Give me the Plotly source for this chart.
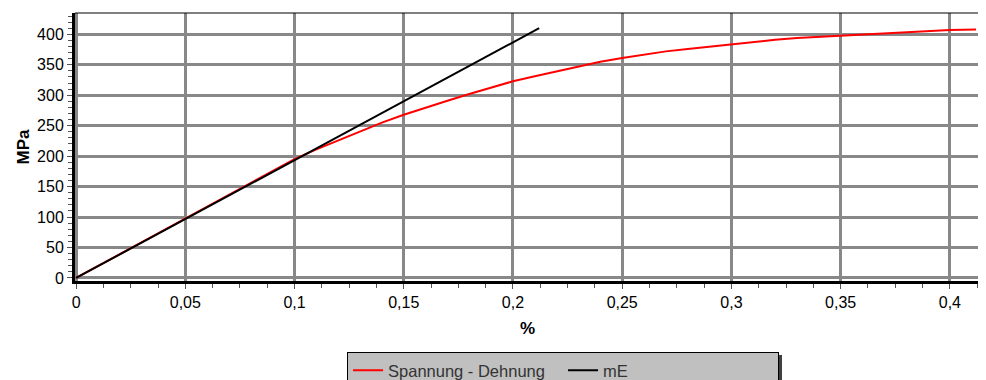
import plotly.graph_objects as go

# Spannung - Dehnung curve (strain %, stress MPa)
strain = [0, 0.05, 0.1, 0.11, 0.12, 0.13, 0.14, 0.15, 0.16, 0.17, 0.18, 0.19, 0.2,
          0.21, 0.22, 0.23, 0.24, 0.25, 0.26, 0.27, 0.28, 0.29, 0.3, 0.31, 0.32,
          0.33, 0.34, 0.35, 0.36, 0.37, 0.38, 0.39, 0.4, 0.412]
stress = [0, 97, 195, 211, 226, 241, 255, 268, 280, 291, 302, 313, 323,
          331, 339, 347, 355, 361, 367, 372, 376, 380, 384, 388, 391,
          394, 396, 398, 400, 402, 404, 405, 407, 408]

# mE (modulus line)
me_strain = [0, 0.212]
me_stress = [0, 410]

series_names = ["Spannung - Dehnung", "mE"]

fig = go.Figure()
fig.add_trace(go.Scatter(x=strain, y=stress, mode="lines", name=series_names[0],
                         line=dict(color="#ff0000", width=2)))
fig.add_trace(go.Scatter(x=me_strain, y=me_stress, mode="lines", name=series_names[1],
                         line=dict(color="#000000", width=2)))

font_family = "Liberation Sans, Arial, sans-serif"

fig.update_layout(
    width=978, height=372,
    margin=dict(l=67, r=6, t=5, b=99, autoexpand=False),
    paper_bgcolor="white", plot_bgcolor="white",
    separators=", ",
    font=dict(family=font_family, size=16, color="black"),
    showlegend=True,
    legend=dict(orientation="h", x=0.3006, xanchor="left", y=-0.265, yanchor="top",
                bgcolor="#c0c0c0", bordercolor="black", borderwidth=1,
                entrywidth=170, font=dict(size=16.5, color="#333333"),
                traceorder="normal"),
    xaxis=dict(range=[-0.0005, 0.4138], dtick=0.05, tick0=0, automargin=False,
               showgrid=True, gridcolor="#888888", gridwidth=3,
               zeroline=False, showline=True, linecolor="black", linewidth=3,
               ticks="outside", ticklen=5, tickcolor="#555555", tickwidth=1,
               minor=dict(dtick=0.0125, ticks="outside", ticklen=4, tickcolor="#555555", showgrid=False),
               title=dict(text="<b>%</b>", font=dict(size=17), standoff=12),
               tickfont=dict(size=16)),
    yaxis=dict(range=[-5, 435], dtick=50, tick0=0, automargin=False,
               showgrid=True, gridcolor="#888888", gridwidth=3,
               zeroline=False, showline=True, linecolor="black", linewidth=3,
               ticks="outside", ticklen=5, tickcolor="#555555", tickwidth=1,
               minor=dict(dtick=10, ticks="outside", ticklen=4, tickcolor="#555555", showgrid=False),
               title=dict(text="<b>MPa</b>", font=dict(size=17), standoff=4),
               tickfont=dict(size=16)),
    shapes=[
        dict(type="line", xref="paper", yref="paper", x0=0, x1=1.0066, y0=1, y1=1,
             line=dict(color="black", width=1)),
        dict(type="rect", xref="paper", yref="paper", x0=0.7757, x1=0.7812, y0=-0.276, y1=-0.3694,
             fillcolor="#404040", line=dict(width=0)),
    ],
)

fig.write_html("out.html")
